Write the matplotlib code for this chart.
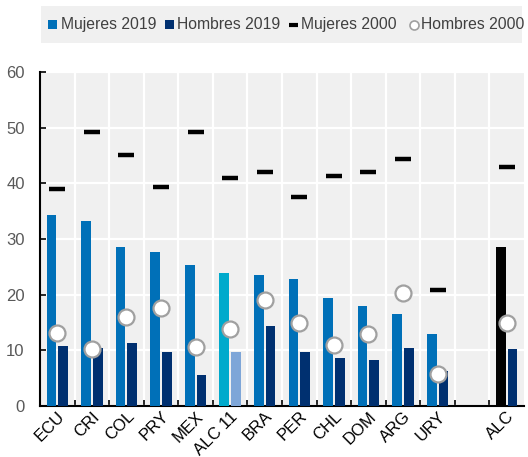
import matplotlib
matplotlib.use("Agg")
import matplotlib.pyplot as plt
from matplotlib.lines import Line2D
from matplotlib.patches import Rectangle
import numpy as np

plt.rcParams['font.family'] = ['Liberation Sans', 'DejaVu Sans']

categories = ["ECU", "CRI", "COL", "PRY", "MEX", "ALC 11", "BRA", "PER", "CHL", "DOM", "ARG", "URY", "", "ALC"]
mujeres_2019 = [34.3, 33.2, 28.5, 27.6, 25.3, 23.9, 23.5, 22.9, 19.4, 18.0, 16.6, 13.0, None, 28.5]
hombres_2019 = [10.8, 10.5, 11.3, 9.7, 5.6, 9.7, 14.4, 9.7, 8.6, 8.2, 10.4, 6.2, None, 10.2]
mujeres_2000 = [39.0, 49.2, 45.1, 39.3, 49.2, 40.9, 42.0, 37.6, 41.3, 42.0, 44.3, 20.9, None, 43.0]
hombres_2000 = [13.2, 10.2, 16.0, 17.6, 10.6, 13.8, 19.0, 15.0, 10.9, 12.9, 20.3, 5.7, None, 15.0]
legend_labels = ["Mujeres 2019", "Hombres 2019", "Mujeres 2000", "Hombres 2000"]

C_M = "#0070b8"
C_H = "#003070"
C_M11 = "#00aacc"
C_H11 = "#7ea6d8"
C_ALC = "#000000"

W, H = 528, 457
fig = plt.figure(figsize=(W/100, H/100), dpi=100)
ax = fig.add_axes([40/W, 1-406/H, 484/W, 334/H])
ax.set_facecolor("#f0f0f0")

x = np.arange(len(categories))
w = 0.28
off = 0.17
for i, cat in enumerate(categories):
    if mujeres_2019[i] is None:
        continue
    cm, ch = C_M, C_H
    if cat == "ALC 11":
        cm, ch = C_M11, C_H11
    elif cat == "ALC":
        cm = C_ALC
    ax.bar(x[i]-off, mujeres_2019[i], width=w, color=cm, zorder=3)
    ax.bar(x[i]+off, hombres_2019[i], width=w, color=ch, zorder=3)

xv = [xi for xi, v in zip(x, mujeres_2000) if v is not None]
ax.plot(xv, [v for v in mujeres_2000 if v is not None], ls='none', marker='_',
        markersize=11.5, mew=3.2, color='black', zorder=4)
ax.plot(xv, [v for v in hombres_2000 if v is not None], ls='none', marker='o',
        markersize=11.5, mfc='white', mec='#a0a0a0', mew=1.6, zorder=5)

ax.set_xlim(-0.5, len(categories)-0.5)
ax.set_ylim(0, 60)
ax.set_yticks(range(0, 61, 10))
ax.set_xticks(x)
ax.set_xticklabels(categories, rotation=45, ha='right', rotation_mode='anchor', fontsize=12)
ax.set_xticks(x[:-1]+0.5, minor=True)
ax.tick_params(axis='x', which='major', length=0, pad=2)
ax.tick_params(axis='x', which='minor', direction='in', length=4, width=1.2, color='black')
ax.tick_params(axis='y', direction='in', length=4, width=1.2, labelsize=12, labelcolor='#595959', pad=11)
ax.grid(axis='y', color='white', lw=1.6, zorder=1)
ax.grid(axis='x', which='minor', color='white', lw=1.6, zorder=1)
ax.set_axisbelow(True)
for s in ['top', 'right']:
    ax.spines[s].set_visible(False)
for s in ['left', 'bottom']:
    ax.spines[s].set_linewidth(1.5)
    ax.spines[s].set_color('black')

# legend (manual, in pixel coordinates converted to figure fraction)
def fx(px):
    return px / W
def fy(py):
    return 1 - py / H

fig.patches.append(Rectangle((fx(40.5), fy(42.5)), fx(522) - fx(40.5), fy(6) - fy(42.5),
                             transform=fig.transFigure, facecolor='#f0f0f0', edgecolor='none', zorder=0))
ly = 24.5
sq = 8.5
fig.patches.append(Rectangle((fx(48), fy(ly + sq/2)), fx(sq), sq/H, transform=fig.transFigure,
                             facecolor=C_M, edgecolor='none'))
fig.patches.append(Rectangle((fx(165), fy(ly + sq/2)), fx(sq), sq/H, transform=fig.transFigure,
                             facecolor=C_H, edgecolor='none'))
fig.lines.append(Line2D([fx(289), fx(298)], [fy(ly), fy(ly)], transform=fig.transFigure,
                        color='black', lw=3, solid_capstyle='butt'))
fig.lines.append(Line2D([fx(414)], [fy(ly)], transform=fig.transFigure, ls='none', marker='o',
                        markersize=6.5, mfc='white', mec='#a0a0a0', mew=1.2))
for px, lab in zip([61, 177, 301, 421], legend_labels):
    fig.text(fx(px), fy(ly), lab, fontsize=11.3, color='#404040', va='center', ha='left')

fig.savefig("out.png", dpi=100)
